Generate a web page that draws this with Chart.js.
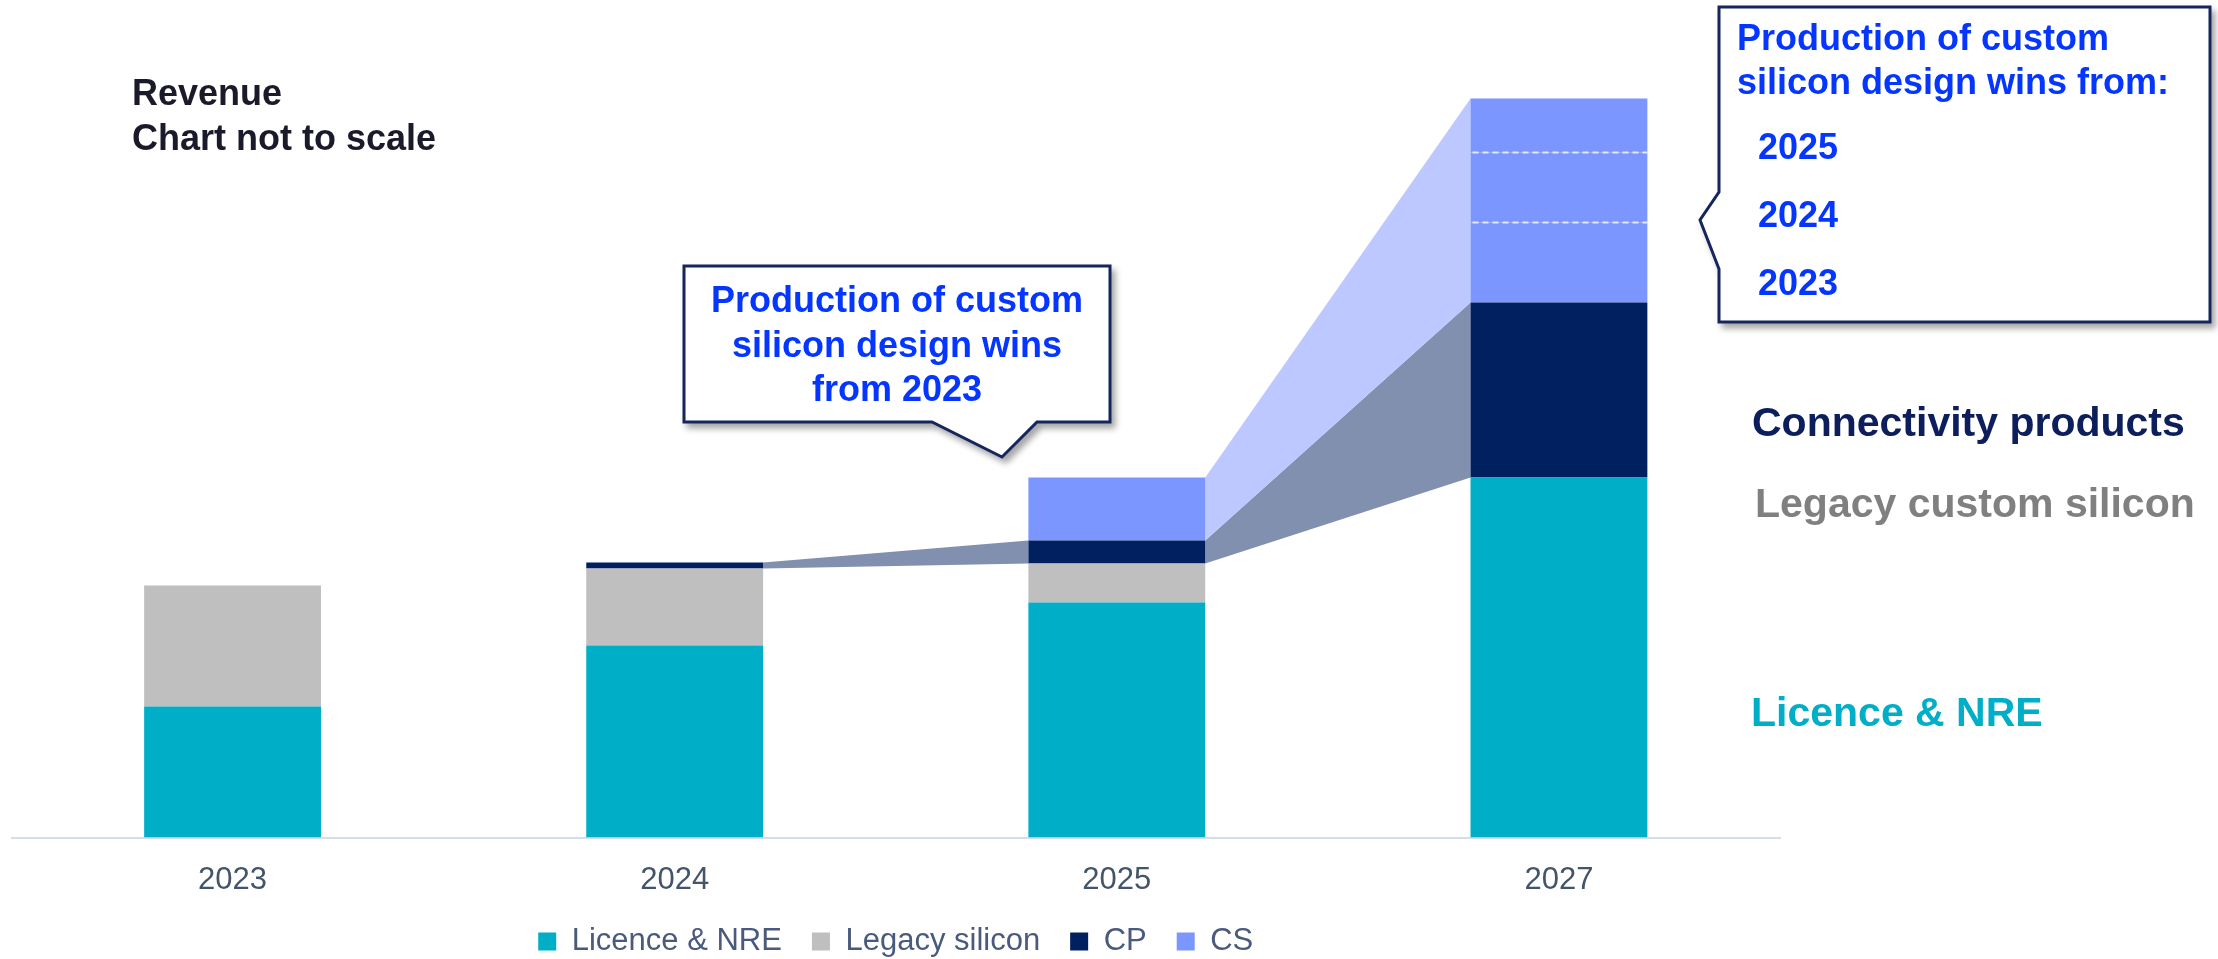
<!DOCTYPE html>
<html>
<head>
<meta charset="utf-8">
<script src="https://cdn.jsdelivr.net/npm/chart.js@4.4.1/dist/chart.umd.min.js"></script>
<style>
  html, body { margin: 0; padding: 0; background: #fff; }
  #wrap { position: relative; width: 2218px; height: 959px; font-family: "Liberation Sans", Arial, sans-serif; }
  #chart { position: absolute; left: 0; top: 0; }
  .t { position: absolute; white-space: nowrap; font-weight: bold; line-height: 1; }
  .blue { color: #0536ff; font-size: 36px; }
  .side { font-size: 41px; }
  svg { position: absolute; left: 0; top: 0; }
</style>
</head>
<body>
<div id="wrap">
  <canvas id="chart" width="2218" height="959"></canvas>

  <svg width="2218" height="959">
    <defs>
      <filter id="shadow" x="-10%" y="-10%" width="130%" height="140%">
        <feDropShadow dx="4" dy="5" stdDeviation="3" flood-color="#000" flood-opacity="0.35"/>
      </filter>
    </defs>
    <path d="M684,266 H1110 V422 H1037 L1002,457 L932,422 H684 Z" fill="#fff" stroke="#13275c" stroke-width="3" filter="url(#shadow)"/>
    <path d="M1719,7 H2210 V322 H1719 V269 L1700,220 L1719,192 Z" fill="#fff" stroke="#13275c" stroke-width="3" filter="url(#shadow)"/>
  </svg>

  <div class="t" style="left:132px; top:75px; font-size:36px; color:#1a1a2a;">Revenue</div>
  <div class="t" style="left:132px; top:119.5px; font-size:36px; color:#1a1a2a;">Chart not to scale</div>

  <div class="t blue" style="left:684px; width:426px; text-align:center; top:282px;">Production of custom</div>
  <div class="t blue" style="left:684px; width:426px; text-align:center; top:326.5px;">silicon design wins</div>
  <div class="t blue" style="left:684px; width:426px; text-align:center; top:371px;">from 2023</div>

  <div class="t blue" style="left:1737px; top:19.5px;">Production of custom</div>
  <div class="t blue" style="left:1737px; top:64px;">silicon design wins from:</div>
  <div class="t blue" style="left:1758px; top:128.5px;">2025</div>
  <div class="t blue" style="left:1758px; top:197px;">2024</div>
  <div class="t blue" style="left:1758px; top:264.5px;">2023</div>

  <div class="t side" style="left:1752px; top:402px; color:#0c1f5c;">Connectivity products</div>
  <div class="t side" style="left:1755px; top:482.6px; color:#808080;">Legacy custom silicon</div>
  <div class="t side" style="left:1751px; top:692px; color:#00aec7;">Licence &amp; NRE</div>
</div>

<script>
// not to scale: values are in chart units
const years = ['2023', '2024', '2025', '2027'];
const licence = [131, 192, 235, 360];
const legacy = [121, 77, 39, 0];
const cp = [0, 6, 23, 175];
const cs2023 = [0, 0, 63, 80];   // custom silicon wins from 2023
const cs2024 = [0, 0, 0, 70];
const cs2025 = [0, 0, 0, 54];

const FONT = '"Liberation Sans", Arial, sans-serif';

// connector bands between bars (dataset indexes of the stack group)
const bandGroups = [
  { sets: [2], color: '#8190af' },
  { sets: [3, 4, 5], color: '#bcc8ff' }
];

function segment(chart, sets, i) {
  const ds = chart.data.datasets;
  let below = 0;
  for (let d = 0; d < sets[0]; d++) below += ds[d].data[i];
  let amount = 0;
  sets.forEach(d => amount += ds[d].data[i]);
  if (amount <= 0) return null;
  const bar = chart.getDatasetMeta(0).data[i];
  const y = chart.scales.y;
  return {
    left: bar.x - bar.width / 2, right: bar.x + bar.width / 2,
    bottom: y.getPixelForValue(below), top: y.getPixelForValue(below + amount)
  };
}

const bandPlugin = {
  id: 'bands',
  beforeDatasetsDraw(chart) {
    const ctx = chart.ctx;
    bandGroups.forEach(g => {
      for (let i = 0; i < years.length - 1; i++) {
        const a = segment(chart, g.sets, i), b = segment(chart, g.sets, i + 1);
        if (!a || !b) continue;
        ctx.save();
        ctx.fillStyle = g.color;
        ctx.beginPath();
        ctx.moveTo(a.right, a.top);
        ctx.lineTo(b.left, b.top);
        ctx.lineTo(b.left, b.bottom);
        ctx.lineTo(a.right, a.bottom);
        ctx.closePath();
        ctx.fill();
        ctx.restore();
      }
    });
  },
  afterDatasetsDraw(chart) {
    // dashed dividers between the CS vintages
    const ctx = chart.ctx, ds = chart.data.datasets, y = chart.scales.y;
    const sets = bandGroups[1].sets;
    for (let i = 0; i < years.length; i++) {
      const bar = chart.getDatasetMeta(0).data[i];
      for (let k = 1; k < sets.length; k++) {
        if (!ds[sets[k - 1]].data[i] || !ds[sets[k]].data[i]) continue;
        let v = 0;
        for (let d = 0; d < sets[k]; d++) v += ds[d].data[i];
        const py = y.getPixelForValue(v);
        ctx.save();
        ctx.strokeStyle = 'rgba(235,240,255,0.9)';
        ctx.lineWidth = 2;
        ctx.setLineDash([6, 4]);
        ctx.beginPath();
        ctx.moveTo(bar.x - bar.width / 2 + 2, py);
        ctx.lineTo(bar.x + bar.width / 2, py);
        ctx.stroke();
        ctx.restore();
      }
    }
  }
};

const bar = (label, data, color) => ({
  label: label, data: data, backgroundColor: color,
  barPercentage: 0.4, categoryPercentage: 1.0, borderWidth: 0
});

new Chart(document.getElementById('chart'), {
  type: 'bar',
  data: {
    labels: years,
    datasets: [
      bar('Licence & NRE', licence, '#00aec7'),
      bar('Legacy silicon', legacy, '#bfbfbf'),
      bar('CP', cp, '#002060'),
      bar('CS', cs2023, '#7b96ff'),
      bar('CS 2024', cs2024, '#7b96ff'),
      bar('CS 2025', cs2025, '#7b96ff')
    ]
  },
  options: {
    responsive: false,
    animation: false,
    layout: { padding: { left: 11.5, right: 438, top: 37.5, bottom: -8 } },
    plugins: {
      tooltip: { enabled: false },
      legend: {
        position: 'bottom',
        labels: {
          filter: item => item.datasetIndex < 4,
          boxWidth: 18, boxHeight: 18, padding: 30,
          color: '#4a5a7c',
          font: { size: 31, family: FONT }
        }
      }
    },
    scales: {
      x: {
        stacked: true,
        grid: { display: false, drawTicks: false },
        border: { display: true, color: '#d6dce8', width: 2 },
        ticks: { color: '#44546a', font: { size: 31, family: FONT }, padding: 24 },
        afterFit: s => { s.height = 58.5; }
      },
      y: { stacked: true, display: false, min: 0, max: 800 }
    }
  },
  plugins: [bandPlugin]
});
</script>
</body>
</html>
